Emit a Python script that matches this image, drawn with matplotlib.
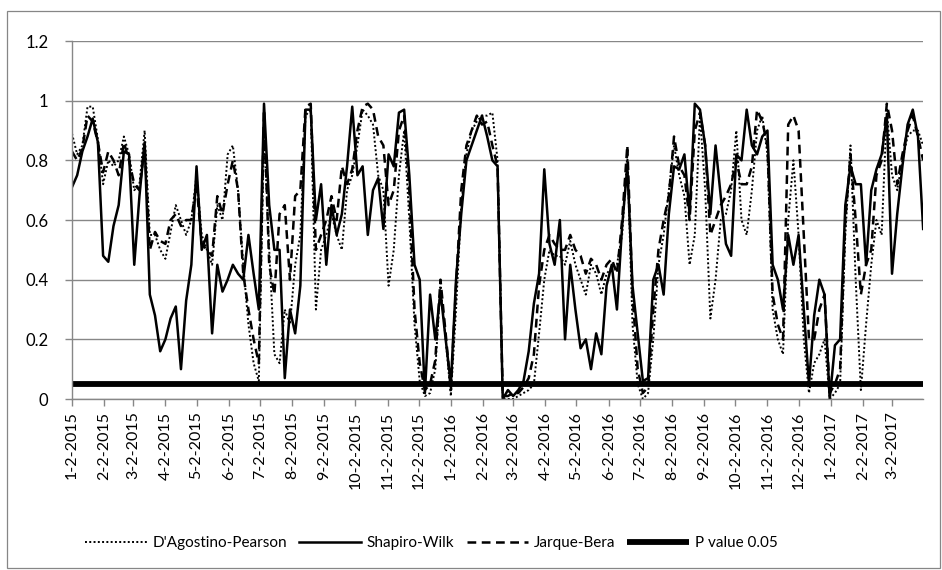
"""
Rolling normality-test p-values, 2015-2017
"""

import numpy as np
import matplotlib
matplotlib.use('Agg')
import matplotlib.pyplot as plt
import matplotlib.dates as mdates
from matplotlib.ticker import FuncFormatter, MultipleLocator
from matplotlib.patches import Rectangle

plt.rcParams['font.family'] = ['Lato', 'DejaVu Sans']

# sample dates: every 5 days from 2 Jan 2015
start_date = np.datetime64('2015-01-02')
dates = start_date + np.arange(165) * 5

shapiro_wilk = [
    0.71, 0.75, 0.83, 0.88, 0.94, 0.86, 0.48, 0.46, 0.58, 0.65,
    0.83, 0.82, 0.45, 0.68, 0.86, 0.35, 0.28, 0.16, 0.20, 0.27,
    0.31, 0.10, 0.33, 0.45, 0.78, 0.50, 0.55, 0.22, 0.45, 0.36,
    0.40, 0.45, 0.42, 0.40, 0.55, 0.42, 0.30, 0.99, 0.65, 0.50,
    0.50, 0.07, 0.30, 0.22, 0.38, 0.97, 0.97, 0.60, 0.72, 0.45,
    0.65, 0.55, 0.62, 0.78, 0.98, 0.75, 0.78, 0.55, 0.70, 0.74,
    0.57, 0.82, 0.78, 0.96, 0.97, 0.75, 0.45, 0.40, 0.02, 0.35,
    0.20, 0.36, 0.20, 0.05, 0.40, 0.62, 0.80, 0.85, 0.90, 0.95,
    0.88, 0.80, 0.78, 0.00, 0.03, 0.01, 0.03, 0.06, 0.16, 0.32,
    0.42, 0.77, 0.52, 0.45, 0.60, 0.20, 0.45, 0.30, 0.17, 0.20,
    0.10, 0.22, 0.15, 0.38, 0.45, 0.30, 0.58, 0.78, 0.38, 0.22,
    0.06, 0.07, 0.40, 0.45, 0.35, 0.62, 0.78, 0.77, 0.82, 0.62,
    0.99, 0.97, 0.85, 0.62, 0.85, 0.68, 0.52, 0.48, 0.82, 0.80,
    0.97, 0.85, 0.82, 0.88, 0.90, 0.45, 0.40, 0.30, 0.55, 0.45,
    0.55, 0.30, 0.05, 0.28, 0.40, 0.35, 0.00, 0.18, 0.20, 0.65,
    0.78, 0.72, 0.72, 0.45, 0.70, 0.77, 0.82, 0.95, 0.42, 0.62,
    0.78, 0.92, 0.97, 0.88, 0.57,
]

dagostino_pearson = [
    0.89, 0.82, 0.85, 0.98, 0.98, 0.87, 0.72, 0.80, 0.78, 0.80,
    0.88, 0.82, 0.70, 0.72, 0.90, 0.55, 0.55, 0.50, 0.47, 0.56,
    0.65, 0.60, 0.55, 0.60, 0.75, 0.55, 0.50, 0.45, 0.65, 0.60,
    0.82, 0.85, 0.70, 0.45, 0.25, 0.12, 0.06, 0.90, 0.50, 0.15,
    0.12, 0.30, 0.25, 0.45, 0.55, 0.95, 0.97, 0.30, 0.50, 0.55,
    0.62, 0.55, 0.50, 0.70, 0.75, 0.85, 0.97, 0.95, 0.92, 0.75,
    0.70, 0.38, 0.50, 0.75, 0.90, 0.60, 0.25, 0.06, 0.01, 0.02,
    0.10, 0.38, 0.20, 0.01, 0.30, 0.65, 0.82, 0.90, 0.93, 0.95,
    0.95, 0.96, 0.80, 0.00, 0.00, 0.00, 0.01, 0.02, 0.03, 0.05,
    0.22, 0.40, 0.50, 0.48, 0.48, 0.45, 0.53, 0.45, 0.40, 0.35,
    0.45, 0.42, 0.35, 0.42, 0.44, 0.45, 0.55, 0.82, 0.25, 0.05,
    0.00, 0.02, 0.20, 0.45, 0.55, 0.70, 0.85, 0.75, 0.68, 0.45,
    0.55, 0.95, 0.70, 0.27, 0.40, 0.60, 0.62, 0.70, 0.90, 0.60,
    0.55, 0.70, 0.90, 0.95, 0.82, 0.30, 0.20, 0.15, 0.60, 0.80,
    0.55, 0.20, 0.02, 0.12, 0.15, 0.20, 0.00, 0.02, 0.05, 0.55,
    0.85, 0.40, 0.03, 0.25, 0.45, 0.60, 0.55, 0.97, 0.75, 0.70,
    0.80, 0.88, 0.90, 0.90, 0.85,
]

jarque_bera = [
    0.83, 0.80, 0.84, 0.95, 0.93, 0.86, 0.76, 0.83, 0.80, 0.75,
    0.86, 0.80, 0.72, 0.70, 0.85, 0.50, 0.56, 0.53, 0.52, 0.60,
    0.62, 0.58, 0.60, 0.60, 0.72, 0.52, 0.50, 0.48, 0.68, 0.62,
    0.72, 0.80, 0.70, 0.42, 0.30, 0.20, 0.12, 0.97, 0.45, 0.35,
    0.62, 0.65, 0.40, 0.68, 0.70, 0.98, 0.99, 0.50, 0.55, 0.60,
    0.68, 0.60, 0.78, 0.72, 0.77, 0.90, 0.98, 0.99, 0.97, 0.88,
    0.85, 0.65, 0.70, 0.90, 0.95, 0.70, 0.30, 0.12, 0.03, 0.05,
    0.13, 0.40, 0.22, 0.03, 0.38, 0.70, 0.85, 0.90, 0.95, 0.92,
    0.93, 0.85, 0.78, 0.01, 0.01, 0.02, 0.02, 0.04, 0.07, 0.15,
    0.38, 0.50, 0.55, 0.52, 0.50, 0.50, 0.55, 0.50, 0.48, 0.42,
    0.47, 0.45, 0.40, 0.45, 0.47, 0.42, 0.60, 0.85, 0.35, 0.10,
    0.02, 0.04, 0.30, 0.50, 0.60, 0.68, 0.88, 0.78, 0.75, 0.60,
    0.90, 0.96, 0.85, 0.55, 0.60, 0.65, 0.68, 0.72, 0.80, 0.72,
    0.72, 0.78, 0.97, 0.93, 0.85, 0.35, 0.25, 0.20, 0.92, 0.95,
    0.90, 0.55, 0.20, 0.20, 0.30, 0.35, 0.02, 0.05, 0.10, 0.60,
    0.82, 0.60, 0.35, 0.45, 0.50, 0.75, 0.80, 0.99, 0.90, 0.72,
    0.82, 0.90, 0.95, 0.88, 0.80,
]

p_value = 0.05

grid_grey = '#878787'

fig = plt.figure(figsize=(9.42, 5.70), dpi=100)
ax = fig.add_axes([0.0764, 0.30, 0.9036, 0.628])

# chart-area border
fig.patches.append(Rectangle((0.007, 0.004), 0.991, 0.977, transform=fig.transFigure,
                             fill=False, edgecolor='#868686', linewidth=0.9))

ax.plot(dates, dagostino_pearson, color='black', linestyle=(0, (1, 1.2)), linewidth=1.4,
        label="D'Agostino-Pearson")
ax.plot(dates, shapiro_wilk, color='black', linestyle='-', linewidth=1.8, label='Shapiro-Wilk')
ax.plot(dates, jarque_bera, color='black', linestyle=(0, (3.5, 2.2)), linewidth=1.8,
        label='Jarque-Bera')
ax.plot([dates[0], dates[-1]], [p_value, p_value], color='black', linewidth=4.2,
        solid_capstyle='butt', label='P value 0.05')

ax.set_xlim(dates[0], np.datetime64('2017-04-01'))
ax.set_ylim(0, 1.2)
ax.yaxis.set_major_locator(MultipleLocator(0.2))
ax.yaxis.set_major_formatter(FuncFormatter(lambda v, pos: '%g' % round(v, 1)))
ax.grid(axis='y', color=grid_grey, linewidth=1.0)
ax.set_axisbelow(True)

ax.xaxis.set_major_locator(mdates.MonthLocator(bymonthday=2))
ax.xaxis.set_major_formatter(FuncFormatter(
    lambda v, pos: '%d-%d-%d' % (mdates.num2date(v).month, mdates.num2date(v).day,
                                 mdates.num2date(v).year)))
plt.setp(ax.get_xticklabels(), rotation=90, ha='center', va='top')

for side in ['top', 'right']:
    ax.spines[side].set_visible(False)
for side in ['left', 'bottom']:
    ax.spines[side].set_color(grid_grey)
    ax.spines[side].set_linewidth(1.0)
ax.tick_params(axis='both', colors=grid_grey, labelcolor='black', length=5, width=1.0)
ax.tick_params(axis='y', labelsize=12, pad=12)
ax.tick_params(axis='x', labelsize=11.5, pad=4)

ax.legend(loc='center', bbox_to_anchor=(0.458, 0.047), bbox_transform=fig.transFigure,
          ncol=4, frameon=False, fontsize=11, handlelength=4.0, handletextpad=0.4,
          columnspacing=0.8)

fig.savefig('out.png', dpi=100)
